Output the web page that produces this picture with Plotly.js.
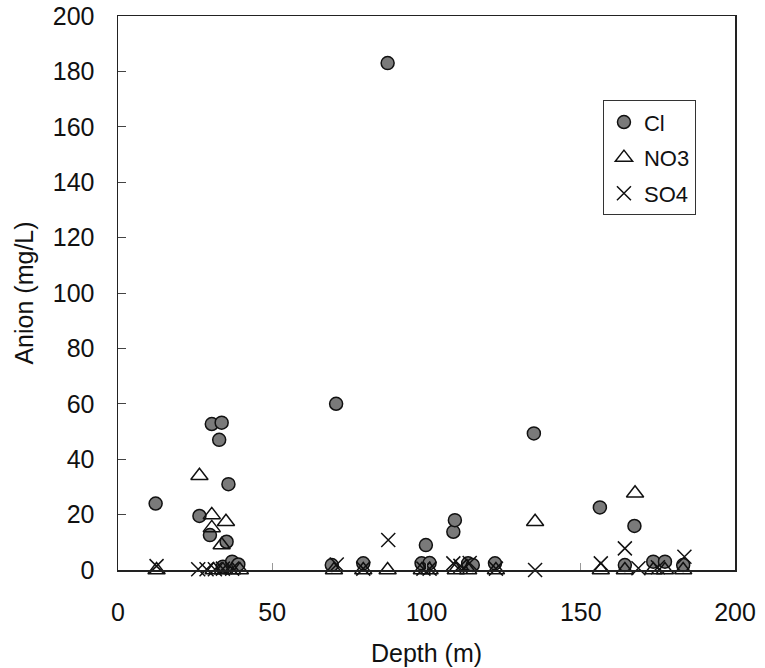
<!DOCTYPE html>
<html>
<head>
<meta charset="utf-8">
<script src="https://cdn.plot.ly/plotly-3.0.1.min.js"></script>
<style>html,body{margin:0;padding:0;background:#fff;}#chart{width:765px;height:668px;}</style>
</head>
<body>
<div id="chart"></div>
<script>
// Cl
const clDepth = [12.2, 26.4, 29.8, 30.4, 32.8, 33.6, 35.2, 35.8, 34, 37, 39, 69.3, 70.7, 79.5, 87.4, 98.4, 99.8, 101, 108.7, 109.2, 113.5, 115, 122.2, 134.8, 156.2, 164.3, 167.4, 173.5, 177.3, 183.2];
const clValue = [24, 19.5, 12.6, 52.7, 47, 53.2, 10.2, 31, 1.2, 3, 2, 1.8, 60, 2.4, 183, 2.4, 9, 2.5, 13.8, 18, 2.4, 1.8, 2.4, 49.3, 22.6, 1.8, 15.9, 3, 3, 1.8];
// NO3
const no3Depth = [12.5, 26.4, 30.4, 30.4, 33.6, 35, 31, 34, 37, 39.5, 70, 79.5, 87.4, 98.5, 101, 109.5, 113.5, 122.5, 135.2, 156.5, 164.3, 167.6, 173.5, 177.3, 183.2];
const no3Value = [0, 34, 19.9, 15.2, 9, 17.4, 0, 0, 0, 0, 0, 0, 0, 0, 0, 0, 0, 0, 17.4, 0, 0, 27.7, 0, 0, 0];
// SO4
const so4Depth = [12.5, 26, 28.7, 31.4, 34, 37, 70.9, 79.5, 87.6, 99, 101, 108.7, 111, 114, 122.5, 135.2, 156.5, 164.3, 168.7, 175, 183.6];
const so4Value = [1.4, 0.3, 0.3, 0.3, 0.5, 0.5, 2, 0.5, 10.8, 0.5, 0.5, 2.4, 1.5, 2.5, 0.5, 0, 2.4, 7.8, 0.6, 1, 4.8];

const xTicks = [0, 50, 100, 150, 200];
const yTicks = [0, 20, 40, 60, 80, 100, 120, 140, 160, 180, 200];

const FONT = 'Liberation Sans, Arial, sans-serif';

const traces = [
  {x: clDepth, y: clValue, name: 'Cl', mode: 'markers', type: 'scatter', cliponaxis: false, legendgroup: 'a',
   marker: {symbol: 'circle', size: 13, color: '#7a7a7a', line: {color: '#111', width: 1.5}}},
  {x: no3Depth, y: no3Value, name: 'NO3', mode: 'markers', type: 'scatter', cliponaxis: false, legendgroup: 'b',
   marker: {symbol: 'triangle-up-open', size: 15, color: '#111', line: {color: '#111', width: 1.5}}},
  {x: so4Depth, y: so4Value, name: 'SO4', mode: 'markers', type: 'scatter', cliponaxis: false, legendgroup: 'c',
   marker: {symbol: 'x-thin-open', size: 14, color: '#111', line: {color: '#111', width: 1.5}}}
];

const layout = {
  width: 765, height: 668,
  margin: {l: 118, r: 30, t: 16, b: 98},
  paper_bgcolor: '#fff', plot_bgcolor: '#fff',
  font: {family: FONT, size: 25, color: '#111'},
  showlegend: true,
  legend: {x: 0.786, y: 0.848, xanchor: 'left', yanchor: 'top', bordercolor: '#333', borderwidth: 1,
           bgcolor: '#fff', font: {family: FONT, size: 22, color: '#111'}, tracegroupgap: 4, itemwidth: 30},
  xaxis: {range: [0, 200], tickvals: xTicks, ticktext: xTicks.map(String), ticks: 'inside', ticklen: 7,
          tickcolor: '#999', showgrid: false, zeroline: false, showline: true, linecolor: '#222', linewidth: 1.5,
          mirror: true, ticklabelstandoff: 19, tickfont: {size: 25},
          title: {text: 'Depth (m)', font: {family: FONT, size: 25}, standoff: 20}},
  yaxis: {range: [0, 200], tickvals: yTicks, ticktext: yTicks.map(String), ticks: 'inside', ticklen: 8,
          tickcolor: '#444', showgrid: false, zeroline: false, showline: true, linecolor: '#222', linewidth: 1.5,
          mirror: true, ticklabelstandoff: 17, tickfont: {size: 25},
          title: {text: 'Anion (mg/L)', font: {family: FONT, size: 25}, standoff: 12}}
};

Plotly.newPlot('chart', traces, layout, {displayModeBar: false, staticPlot: true});
</script>
</body>
</html>
